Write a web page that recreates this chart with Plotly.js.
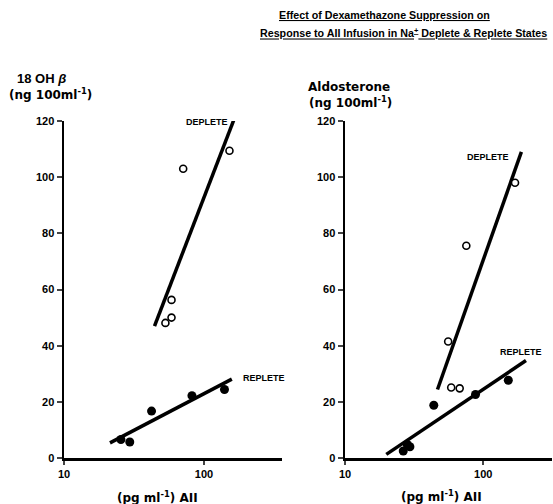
<!DOCTYPE html>
<html><head><meta charset="utf-8">
<script src="https://cdn.plot.ly/plotly-3.0.1.min.js"></script>
<style>html,body{margin:0;padding:0;background:#fff}#c{width:553px;height:504px}</style>
</head><body><div id="c"></div>
<script>
// Left panel: 18 OH B
const ohDepleteX = [71, 152, 58.6, 58.6, 53];
const ohDepleteY = [103, 109.4, 56.3, 50, 48.1];
const ohDepleteFitX = [44.3, 168];
const ohDepleteFitY = [47, 122];
const ohRepleteX = [25.5, 29.5, 42.2, 82, 140];
const ohRepleteY = [6.6, 5.7, 16.7, 22.2, 24.4];
const ohRepleteFitX = [21.3, 158];
const ohRepleteFitY = [5.4, 28.1];
// Right panel: Aldosterone
const aldoDepleteX = [75.5, 170, 55.8, 58.7, 67.6];
const aldoDepleteY = [75.6, 98, 41.5, 25.1, 24.8];
const aldoDepleteFitX = [46.7, 189];
const aldoDepleteFitY = [24.4, 109];
const aldoRepleteX = [26.4, 28.2, 29.5, 43.9, 88, 152];
const aldoRepleteY = [2.5, 4.8, 4.0, 18.8, 22.6, 27.7];
const aldoRepleteFitX = [19.9, 204];
const aldoRepleteFitY = [1.3, 34.7];
const yTicks = [0, 20, 40, 60, 80, 100, 120];
const xTicks = [10, 100];

const F = 'Liberation Sans, Arial, sans-serif';
const FW = 'DejaVu Sans, Liberation Sans, sans-serif';
function pts(x, y, filled, xa, ya) {
  return {x, y, xaxis: xa, yaxis: ya, type: 'scatter', mode: 'markers', cliponaxis: false, hoverinfo: 'none',
    marker: filled ? {size: 9, color: '#000'} : {size: 7, color: '#fff', line: {color: '#000', width: 1.6}}};
}
function fit(x, y, xa, ya) {
  return {x, y, xaxis: xa, yaxis: ya, type: 'scatter', mode: 'lines', hoverinfo: 'none',
    line: {color: '#000', width: 3.5}};
}
const data = [
  fit(ohDepleteFitX, ohDepleteFitY, 'x', 'y'),
  fit(ohRepleteFitX, ohRepleteFitY, 'x', 'y'),
  pts(ohDepleteX, ohDepleteY, false, 'x', 'y'),
  pts(ohRepleteX, ohRepleteY, true, 'x', 'y'),
  fit(aldoDepleteFitX, aldoDepleteFitY, 'x2', 'y2'),
  fit(aldoRepleteFitX, aldoRepleteFitY, 'x2', 'y2'),
  pts(aldoDepleteX, aldoDepleteY, false, 'x2', 'y2'),
  pts(aldoRepleteX, aldoRepleteY, true, 'x2', 'y2')
];
const tickFont = {family: F, size: 11, color: '#000', weight: 'bold'};
function xax(domain, range) {
  return {type: 'log', domain, range, tickvals: xTicks, ticktext: xTicks.map(String), ticks: 'outside', ticklen: 4, tickwidth: 2,
    showline: true, linewidth: 2.5, linecolor: '#000', showgrid: false, zeroline: false, tickfont: tickFont, fixedrange: true};
}
function yax(domain, anchor) {
  return {domain, range: [0, 120], tickvals: yTicks, ticks: 'outside', ticklen: 5, tickwidth: 2, anchor,
    showline: true, linewidth: 2.5, linecolor: '#000', showgrid: false, zeroline: false, tickfont: tickFont, fixedrange: true};
}
const yd = [46/504, 383/504];
function ann(text, px, py, font) {
  return {text, x: px/553, y: 1-py/504, xref: 'paper', yref: 'paper', xanchor: 'center', yanchor: 'middle', showarrow: false, font};
}
const titleFont = {family: F, size: 10.7, weight: 'bold', color: '#000'};
const labFont = {family: FW, size: 12, weight: 'bold', color: '#000'};
const smallFont = {family: F, size: 9, weight: 'bold', color: '#000'};
const layout = {
  width: 553, height: 504, margin: {l: 0, r: 0, t: 0, b: 0}, showlegend: false,
  paper_bgcolor: '#fff', plot_bgcolor: '#fff', font: {family: F, color: '#000'},
  xaxis: xax([64/553, 282/553], [1, 2.557]),
  yaxis: yax(yd, 'x'),
  xaxis2: xax([345/553, 552/553], [1, 2.498]),
  yaxis2: yax(yd, 'x2'),
  annotations: [
    ann('<b><u>Effect of Dexamethazone Suppression on</u></b>', 384, 15, titleFont),
    ann('<b><u>Response to AII Infusion in Na<sup>+</sup> Deplete &amp; Replete States</u></b>', 403, 32, titleFont),
    ann('<b>18 OH <i>β</i></b>', 41, 78, {family: F, size: 13, weight: 'bold', color: '#000'}),
    ann('<b>(ng 100ml<sup>-1</sup>)</b>', 50, 94, labFont),
    ann('<b>Aldosterone</b>', 349, 87, labFont),
    ann('<b>(ng 100ml<sup>-1</sup>)</b>', 350, 102, labFont),
    ann('<b>(pg ml<sup>-1</sup>) AII</b>', 157, 497, labFont),
    ann('<b>(pg ml<sup>-1</sup>) AII</b>', 441, 496, labFont),
    ann('<b>DEPLETE</b>', 207, 122, smallFont),
    ann('<b>REPLETE</b>', 264, 378, smallFont),
    ann('<b>DEPLETE</b>', 488, 157, smallFont),
    ann('<b>REPLETE</b>', 521, 352, smallFont)
  ]
};
Plotly.newPlot('c', data, layout, {staticPlot: true, displayModeBar: false});
</script></body></html>
